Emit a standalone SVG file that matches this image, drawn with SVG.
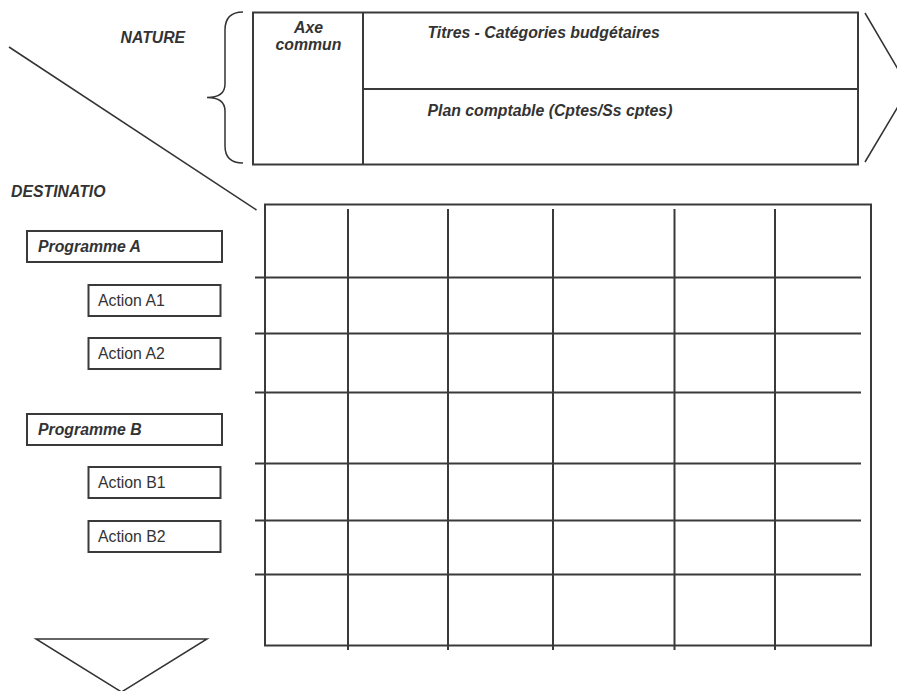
<svg xmlns="http://www.w3.org/2000/svg" width="897" height="691" viewBox="0 0 897 691">
  <style>
    .ln { fill: none; stroke: #3a3a3a; stroke-width: 2; }
    .thin { fill: none; stroke: #333; stroke-width: 1.5; }
    .box { fill: #fff; stroke: #3a3a3a; stroke-width: 2; }
    .lbl { font-family: "Liberation Sans", Arial, sans-serif; font-size: 15.8px; fill: #333; }
    .bi { font-weight: bold; font-style: italic; }
  </style>
  <rect width="897" height="691" fill="#fff"/>

  <!-- axis titles -->
  <g id="axis-labels">
    <text class="lbl bi" x="120.5" y="43">NATURE</text>
    <text class="lbl bi" x="11" y="197">DESTINATIO</text>
  </g>

  <!-- diagonal separating the two axes -->
  <g id="connectors">
    <line class="thin" x1="9" y1="47" x2="256.5" y2="210"/>
  </g>

  <!-- brace grouping the nature header -->
  <g id="brace">
    <path class="thin" d="M243,12 Q225,12 225,30 L225,84 Q225,97.5 207,97.5 Q225,97.5 225,111 L225,146 Q225,163 243,163"/>
  </g>

  <!-- nature header -->
  <g id="nature-header">
    <rect class="ln" x="253" y="12.5" width="605" height="152"/>
    <line class="ln" x1="363" y1="12.5" x2="363" y2="164.5"/>
    <line class="ln" x1="363" y1="89" x2="858" y2="89"/>
  </g>
  <g id="axe-commun">
    <text class="lbl bi" x="308.5" y="33" text-anchor="middle">Axe</text>
    <text class="lbl bi" x="308.5" y="50" text-anchor="middle">commun</text>
  </g>
  <g id="titres">
    <text class="lbl bi" x="427.5" y="38">Titres - Catégories budgétaires</text>
  </g>
  <g id="plan-comptable">
    <text class="lbl bi" x="427.5" y="116">Plan comptable (Cptes/Ss cptes)</text>
  </g>

  <!-- direction arrows -->
  <g id="arrow-right">
    <path class="thin" d="M865,13 L909,88 L865,162"/>
  </g>
  <g id="arrow-down">
    <path class="thin" d="M36,639 L207,639 L121.5,692 Z"/>
  </g>

  <!-- destination column -->
  <g id="programme-a">
    <rect class="box" x="27" y="231" width="195" height="31"/>
    <text class="lbl bi" x="38" y="251.5">Programme A</text>
  </g>
  <g id="action-a1">
    <rect class="box" x="88.5" y="285" width="132" height="31"/>
    <text class="lbl" x="98" y="305.5">Action A1</text>
  </g>
  <g id="action-a2">
    <rect class="box" x="88.5" y="338" width="132" height="31"/>
    <text class="lbl" x="98" y="358.5">Action A2</text>
  </g>
  <g id="programme-b">
    <rect class="box" x="27" y="414" width="195" height="31"/>
    <text class="lbl bi" x="38" y="434.5">Programme B</text>
  </g>
  <g id="action-b1">
    <rect class="box" x="88.5" y="467" width="132" height="31"/>
    <text class="lbl" x="98" y="487.5">Action B1</text>
  </g>
  <g id="action-b2">
    <rect class="box" x="88.5" y="521" width="132" height="31"/>
    <text class="lbl" x="98" y="541.5">Action B2</text>
  </g>

  <!-- cross-tabulation grid -->
  <g id="grid">
    <rect class="ln" x="265" y="204.5" width="606" height="441"/>
    <g class="ln">
      <line x1="348" y1="209" x2="348" y2="650"/>
      <line x1="448" y1="209" x2="448" y2="650"/>
      <line x1="553" y1="209" x2="553" y2="650"/>
      <line x1="674.5" y1="209" x2="674.5" y2="650"/>
      <line x1="775" y1="209" x2="775" y2="650"/>
      <line x1="255" y1="277.5" x2="861" y2="277.5"/>
      <line x1="255" y1="333.5" x2="861" y2="333.5"/>
      <line x1="255" y1="392.5" x2="861" y2="392.5"/>
      <line x1="255" y1="463.5" x2="861" y2="463.5"/>
      <line x1="255" y1="520.5" x2="861" y2="520.5"/>
      <line x1="255" y1="574.5" x2="861" y2="574.5"/>
    </g>
  </g>
</svg>
